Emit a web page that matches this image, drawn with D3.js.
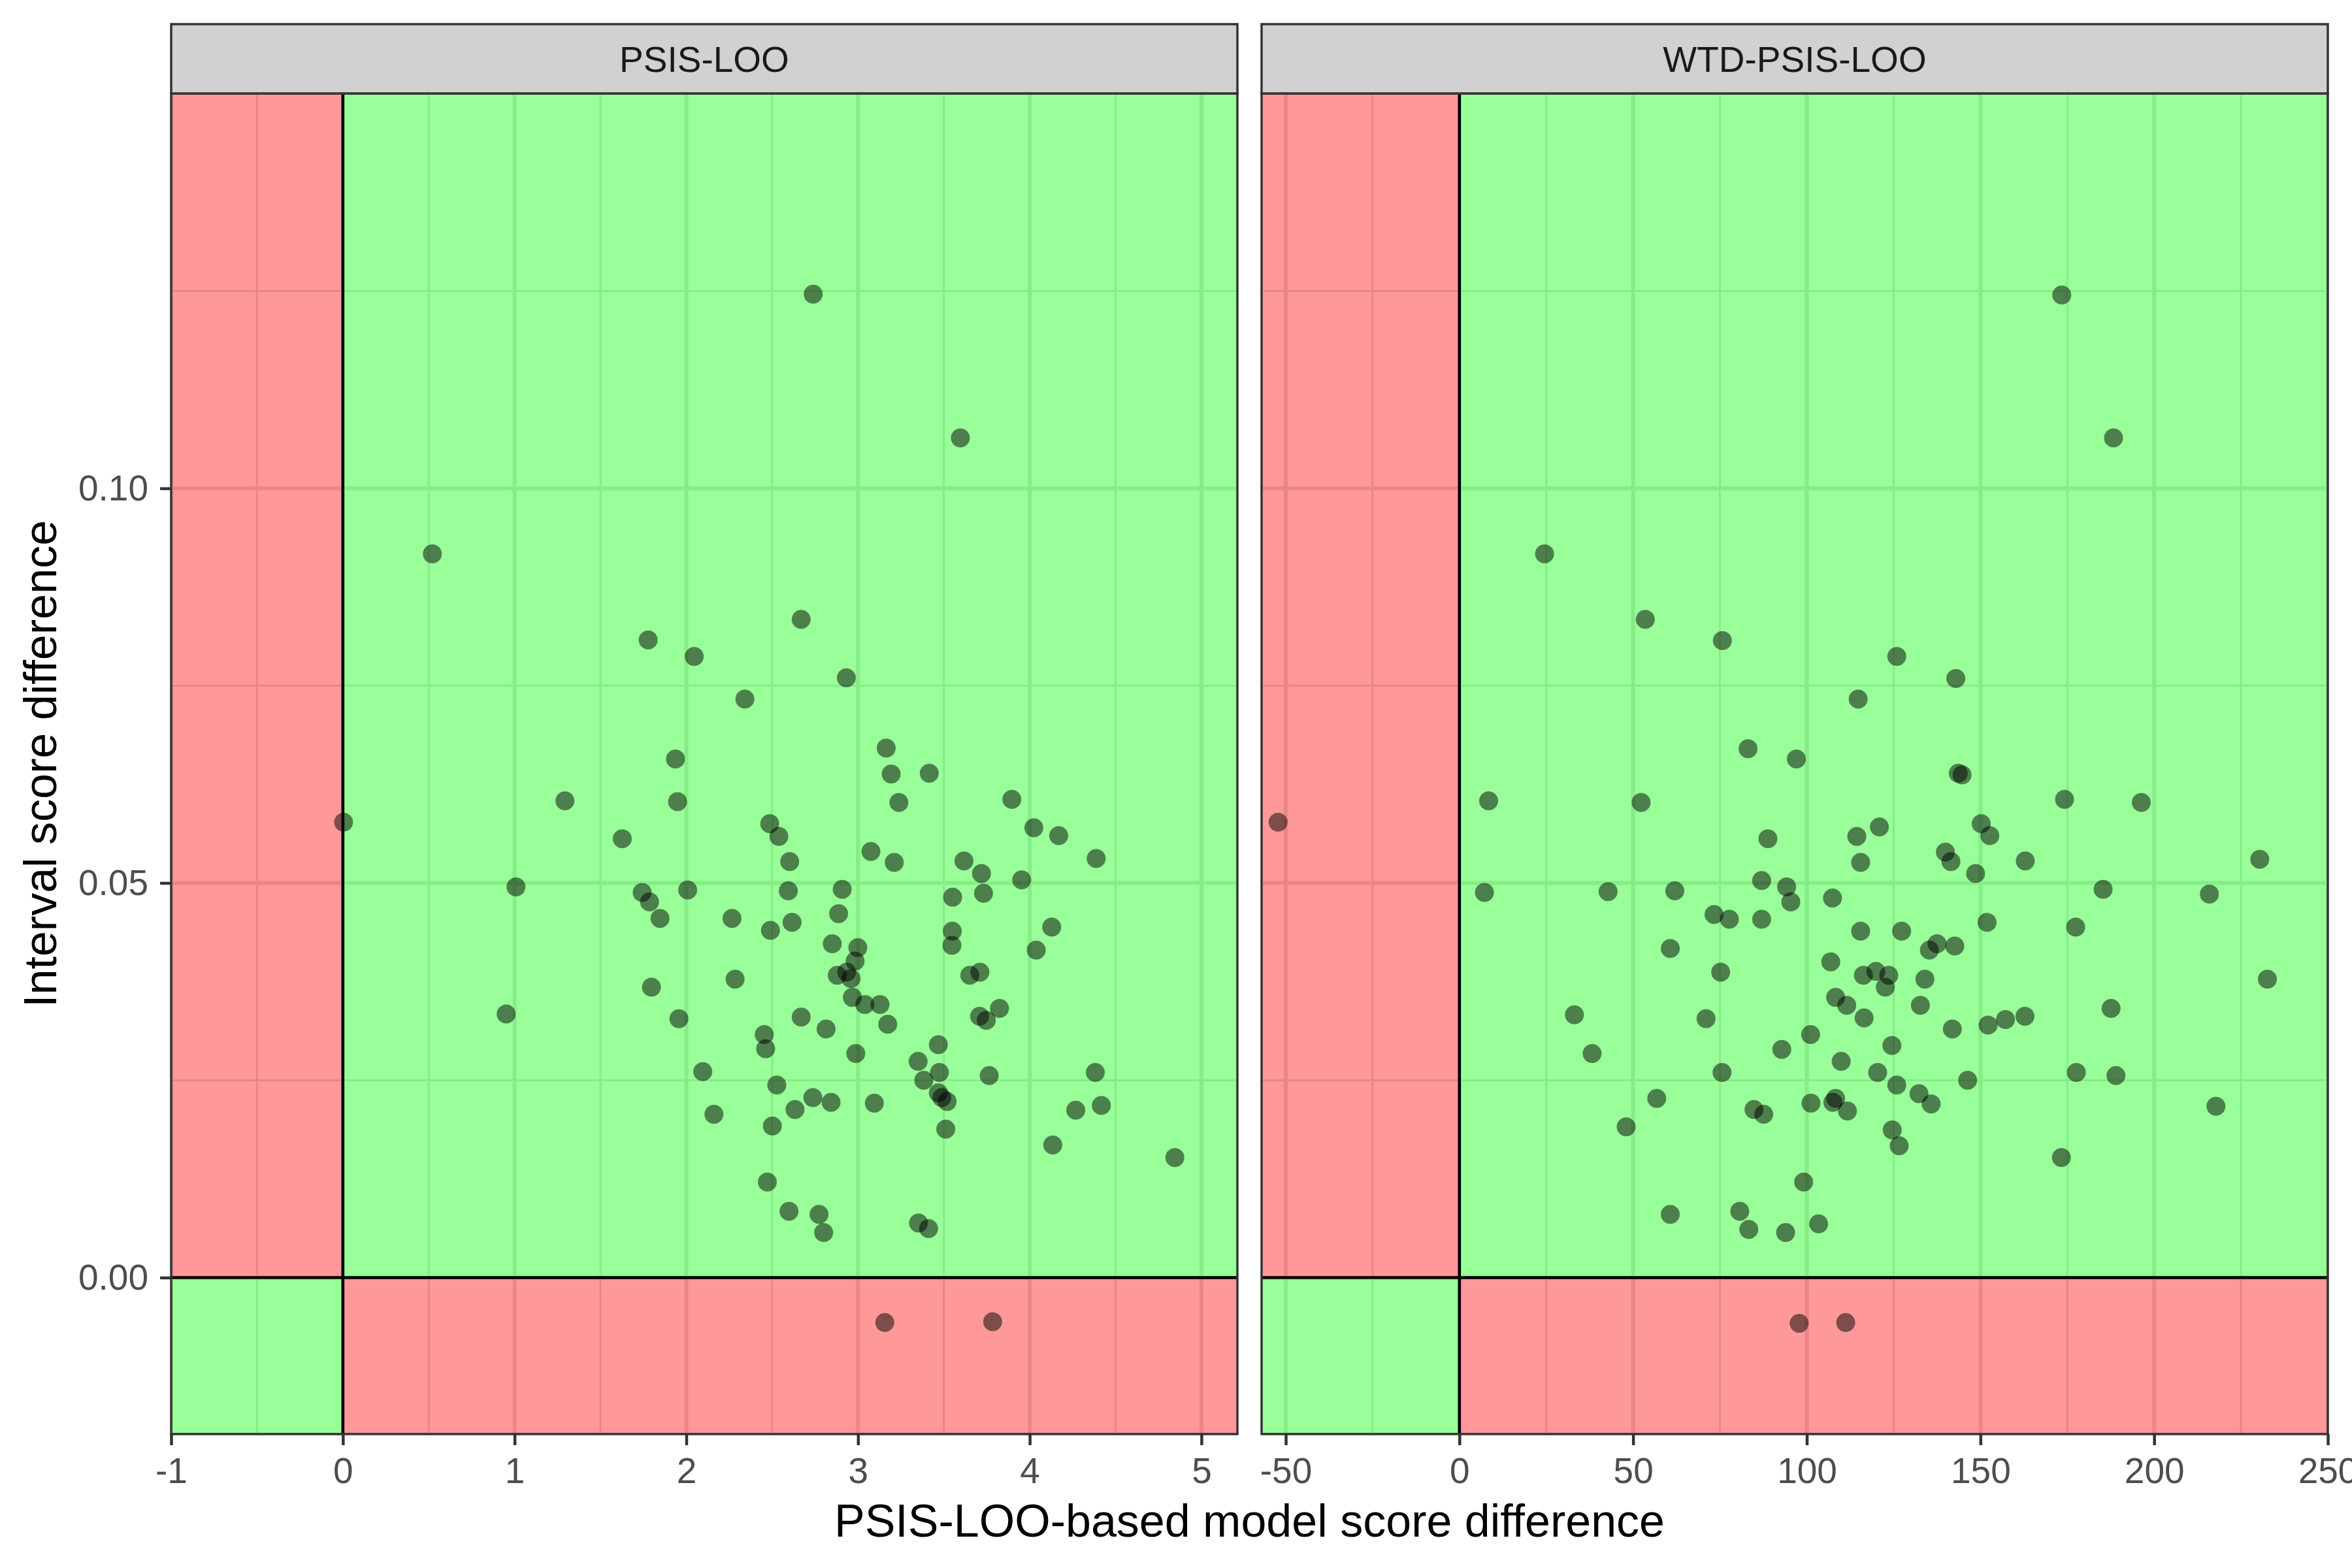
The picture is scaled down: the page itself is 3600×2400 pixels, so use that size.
<!DOCTYPE html>
<html>
<head>
<meta charset="utf-8">
<script src="https://cdn.jsdelivr.net/npm/d3@7"></script>
<style>
  html, body { margin: 0; padding: 0; background: #ffffff; }
  svg { display: block; }
</style>
</head>
<body>
<script>
// ---------------- DATA ----------------
const panelLabels = ["PSIS-LOO", "WTD-PSIS-LOO"];
const xTitle = "PSIS-LOO-based model score difference";
const yTitle = "Interval score difference";

const xTicksLoo = [-1, 0, 1, 2, 3, 4, 5];
const xTickLabelsLoo = ["-1", "0", "1", "2", "3", "4", "5"];
const xTicksWtd = [-50, 0, 50, 100, 150, 200, 250];
const xTickLabelsWtd = ["-50", "0", "50", "100", "150", "200", "250"];
const yTicks = [0.00, 0.05, 0.10];
const yTickLabels = ["0.00", "0.05", "0.10"];

// [x, y] pairs
const psisLooPoints = [
  [0.521,0.0917],[1.778,0.0808],[2.046,0.0787],[1.937,0.0657],[2.739,0.1246],
  [3.596,0.1064],[2.669,0.0834],[2.932,0.0760],[2.341,0.0733],[3.164,0.0671],
  [3.193,0.0638],[3.415,0.0639],[1.293,0.0604],[1.949,0.0603],[0.004,0.0577],
  [1.627,0.0556],[1.008,0.0495],[1.743,0.0488],[1.786,0.0476],[2.008,0.0491],
  [1.847,0.0455],[1.797,0.0368],[0.951,0.0334],[1.957,0.0328],[2.096,0.0261],
  [2.161,0.0207],[3.238,0.0602],[3.896,0.0606],[2.486,0.0575],[2.539,0.0559],
  [2.602,0.0527],[3.075,0.0540],[3.211,0.0526],[3.617,0.0528],[3.719,0.0512],
  [4.024,0.0570],[4.169,0.0560],[4.387,0.0531],[3.953,0.0504],[2.594,0.0490],
  [2.908,0.0492],[3.551,0.0482],[3.731,0.0487],[2.266,0.0455],[2.490,0.0440],
  [2.616,0.0450],[2.887,0.0461],[3.549,0.0439],[3.547,0.0421],[4.128,0.0444],
  [4.038,0.0415],[2.850,0.0423],[2.999,0.0418],[2.983,0.0401],[2.934,0.0387],
  [2.879,0.0383],[2.959,0.0379],[2.284,0.0378],[3.651,0.0383],[3.710,0.0387],
  [2.967,0.0355],[3.040,0.0346],[3.128,0.0346],[3.173,0.0321],[2.669,0.0330],
  [2.814,0.0315],[2.454,0.0308],[2.462,0.0290],[2.987,0.0284],[3.708,0.0331],
  [3.747,0.0326],[3.824,0.0341],[3.468,0.0295],[3.350,0.0274],[3.474,0.0260],
  [3.383,0.0250],[3.764,0.0256],[4.382,0.0260],[2.527,0.0244],[3.468,0.0234],
  [3.488,0.0228],[3.519,0.0223],[2.737,0.0228],[2.843,0.0222],[3.095,0.0221],
  [2.633,0.0213],[4.268,0.0212],[4.417,0.0218],[2.501,0.0192],[3.511,0.0188],
  [4.134,0.0168],[4.845,0.0152],[2.472,0.0121],[2.598,0.0084],[2.773,0.0080],
  [2.800,0.0057],[3.352,0.0069],[3.411,0.0062],[3.156,-0.0057],[3.784,-0.0056]
];

// [x, y] pairs
const wtdPsisLooPoints = [
  [-52.2,0.0577],[24.5,0.0917],[53.5,0.0834],[75.7,0.0807],[114.8,0.0733],
  [83.1,0.0670],[97.0,0.0657],[8.4,0.0604],[52.3,0.0602],[88.8,0.0556],
  [114.4,0.0559],[173.4,0.1245],[188.3,0.1064],[125.9,0.0787],[142.9,0.0759],
  [143.6,0.0639],[144.7,0.0637],[174.2,0.0606],[196.3,0.0602],[120.9,0.0571],
  [150.2,0.0575],[152.7,0.0560],[139.9,0.0539],[141.5,0.0527],[115.5,0.0526],
  [148.6,0.0512],[162.9,0.0528],[230.4,0.0530],[7.2,0.0488],[42.8,0.0489],
  [62.0,0.0490],[87.0,0.0503],[94.2,0.0495],[95.4,0.0476],[107.4,0.0481],
  [73.3,0.0460],[77.7,0.0454],[87.0,0.0454],[115.5,0.0439],[60.7,0.0417],
  [75.2,0.0387],[106.9,0.0400],[116.3,0.0383],[33.1,0.0333],[71.0,0.0328],
  [108.3,0.0355],[111.5,0.0345],[116.5,0.0329],[101.1,0.0308],[92.8,0.0289],
  [109.9,0.0274],[38.2,0.0284],[75.6,0.0260],[56.8,0.0227],[48.0,0.0191],
  [84.8,0.0213],[87.6,0.0207],[101.2,0.0221],[108.3,0.0227],[107.5,0.0222],
  [111.7,0.0211],[99.1,0.0121],[60.7,0.0080],[80.7,0.0084],[83.3,0.0061],
  [93.9,0.0057],[103.4,0.0068],[97.8,-0.0058],[111.2,-0.0057],[127.3,0.0439],
  [185.3,0.0492],[215.9,0.0486],[151.9,0.0450],[177.4,0.0444],[137.5,0.0423],
  [135.3,0.0415],[142.6,0.0420],[119.9,0.0388],[123.6,0.0383],[122.6,0.0368],
  [134.0,0.0378],[232.6,0.0378],[132.7,0.0345],[141.9,0.0315],[152.2,0.0320],
  [157.2,0.0327],[162.8,0.0331],[187.6,0.0341],[124.5,0.0294],[120.4,0.0260],
  [125.9,0.0244],[132.3,0.0233],[135.8,0.0220],[146.3,0.0250],[177.6,0.0260],
  [189.0,0.0256],[217.8,0.0217],[124.6,0.0187],[126.6,0.0167],[173.3,0.0152]
];

// ---------------- LAYOUT ----------------
const W = 3600, H = 2400;
const panelTop = 143, panelBottom = 2195, stripTop = 37;
const FONT = "'Liberation Sans', Arial, Helvetica, sans-serif";
const GRID = "#DFDFDF";

const panels = [
  { label: panelLabels[0], points: psisLooPoints, ticks: xTicksLoo, tickLabels: xTickLabelsLoo,
    domain: [-1, 5.2095], range: [262, 1894] },
  { label: panelLabels[1], points: wtdPsisLooPoints, ticks: xTicksWtd, tickLabels: xTickLabelsWtd,
    domain: [-56.96, 250], range: [1931, 3563] }
];

const y = d3.scaleLinear().domain([-0.01983, 0.15004]).range([panelBottom, panelTop]);

const svg = d3.select("body").append("svg")
  .attr("width", W).attr("height", H)
  .attr("viewBox", `0 0 ${W} ${H}`);

svg.append("rect").attr("width", W).attr("height", H).attr("fill", "#ffffff");

function midpoints(arr) {
  const out = [];
  for (let i = 0; i < arr.length - 1; i++) out.push((arr[i] + arr[i + 1]) / 2);
  return out;
}

const yMinor = midpoints(yTicks).concat([yTicks[yTicks.length - 1] + (yTicks[1] - yTicks[0]) / 2]);

panels.forEach((p, idx) => {
  const x = d3.scaleLinear().domain(p.domain).range(p.range);
  const x0 = p.range[0], x1 = p.range[1];
  const g = svg.append("g");
  const clipId = "clip" + idx;
  svg.append("clipPath").attr("id", clipId)
    .append("rect").attr("x", x0).attr("y", panelTop)
    .attr("width", x1 - x0).attr("height", panelBottom - panelTop);

  const pg = g.append("g").attr("clip-path", `url(#${clipId})`);

  pg.append("rect").attr("x", x0).attr("y", panelTop)
    .attr("width", x1 - x0).attr("height", panelBottom - panelTop).attr("fill", "#ffffff");

  const xMinor = midpoints(p.ticks).filter(v => v >= p.domain[0] && v <= p.domain[1]);
  pg.selectAll(".xminor").data(xMinor).enter().append("line")
    .attr("x1", d => x(d)).attr("x2", d => x(d))
    .attr("y1", panelTop).attr("y2", panelBottom)
    .attr("stroke", GRID).attr("stroke-width", 3);
  pg.selectAll(".yminor").data(yMinor).enter().append("line")
    .attr("x1", x0).attr("x2", x1)
    .attr("y1", d => y(d)).attr("y2", d => y(d))
    .attr("stroke", GRID).attr("stroke-width", 3);
  pg.selectAll(".xmajor").data(p.ticks).enter().append("line")
    .attr("x1", d => x(d)).attr("x2", d => x(d))
    .attr("y1", panelTop).attr("y2", panelBottom)
    .attr("stroke", GRID).attr("stroke-width", 6);
  pg.selectAll(".ymajor").data(yTicks).enter().append("line")
    .attr("x1", x0).attr("x2", x1)
    .attr("y1", d => y(d)).attr("y2", d => y(d))
    .attr("stroke", GRID).attr("stroke-width", 6);

  const quads = [
    { xa: p.domain[0], xb: 0, ya: 0, yb: y.domain()[1], fill: "#FF0000" },
    { xa: 0, xb: p.domain[1], ya: 0, yb: y.domain()[1], fill: "#00FF00" },
    { xa: p.domain[0], xb: 0, ya: y.domain()[0], yb: 0, fill: "#00FF00" },
    { xa: 0, xb: p.domain[1], ya: y.domain()[0], yb: 0, fill: "#FF0000" }
  ];
  pg.selectAll(".quad").data(quads).enter().append("rect")
    .attr("x", d => x(d.xa)).attr("width", d => x(d.xb) - x(d.xa))
    .attr("y", d => y(d.yb)).attr("height", d => y(d.ya) - y(d.yb))
    .attr("fill", d => d.fill).attr("fill-opacity", 0.4);

  pg.append("line").attr("x1", x(0)).attr("x2", x(0))
    .attr("y1", panelTop).attr("y2", panelBottom)
    .attr("stroke", "#000000").attr("stroke-width", 4.5);
  pg.append("line").attr("x1", x0).attr("x2", x1)
    .attr("y1", y(0)).attr("y2", y(0))
    .attr("stroke", "#000000").attr("stroke-width", 4.5);

  pg.selectAll(".pt").data(p.points).enter().append("circle")
    .attr("cx", d => x(d[0])).attr("cy", d => y(d[1]))
    .attr("r", 14.5).attr("fill", "#000000").attr("fill-opacity", 0.5);

  g.append("rect").attr("x", x0).attr("y", panelTop)
    .attr("width", x1 - x0).attr("height", panelBottom - panelTop)
    .attr("fill", "none").attr("stroke", "#333333").attr("stroke-width", 3.5);

  g.append("rect").attr("x", x0).attr("y", stripTop)
    .attr("width", x1 - x0).attr("height", panelTop - stripTop)
    .attr("fill", "#D1D1D1").attr("stroke", "#333333").attr("stroke-width", 3.5);
  g.append("text").attr("x", (x0 + x1) / 2).attr("y", 110)
    .attr("text-anchor", "middle").attr("font-family", FONT)
    .attr("font-size", 55).attr("fill", "#1A1A1A").text(p.label);

  const xAxis = d3.axisBottom(x).tickValues(p.ticks)
    .tickFormat((d, i) => p.tickLabels[i])
    .tickSize(17).tickPadding(19);
  const ax = g.append("g").attr("transform", `translate(0,${panelBottom})`).call(xAxis);
  ax.select(".domain").remove();
  ax.selectAll(".tick line").attr("stroke", "#333333").attr("stroke-width", 4.5);
  ax.selectAll(".tick text").attr("font-family", FONT).attr("font-size", 55)
    .attr("fill", "#4D4D4D");

  if (idx === 0) {
    const yAxis = d3.axisLeft(y).tickValues(yTicks)
      .tickFormat((d, i) => yTickLabels[i]).tickSize(17).tickPadding(18);
    const ay = g.append("g").attr("transform", `translate(${x0},0)`).call(yAxis);
    ay.select(".domain").remove();
    ay.selectAll(".tick line").attr("stroke", "#333333").attr("stroke-width", 4.5);
    ay.selectAll(".tick text").attr("font-family", FONT).attr("font-size", 55)
      .attr("fill", "#4D4D4D");
  }
});

svg.append("text").attr("x", (262 + 3563) / 2).attr("y", 2352)
  .attr("text-anchor", "middle").attr("font-family", FONT)
  .attr("font-size", 70).attr("fill", "#000000").text(xTitle);

svg.append("text")
  .attr("transform", `translate(86,${(panelTop + panelBottom) / 2}) rotate(-90)`)
  .attr("text-anchor", "middle").attr("font-family", FONT)
  .attr("font-size", 70).attr("fill", "#000000").text(yTitle);
</script>
</body>
</html>
